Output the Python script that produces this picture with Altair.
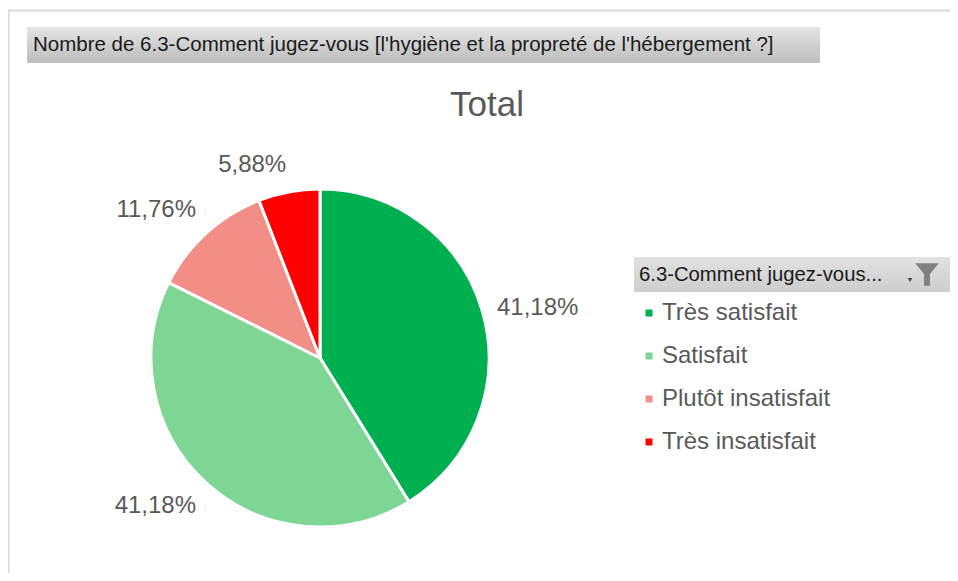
import altair as alt
import pandas as pd

# ---- data ----
categories = ["Très satisfait", "Satisfait", "Plutôt insatisfait", "Très insatisfait"]
counts = [7, 7, 2, 1]
pct_labels = ["41,18%", "41,18%", "11,76%", "5,88%"]
colors = ["#00B050", "#7DD694", "#F28E86", "#FF0000"]
header_text = "Nombre de 6.3-Comment jugez-vous [l'hygiène et la propreté de l'hébergement ?]"
legend_title = "6.3-Comment jugez-vous..."
chart_title = "Total"

df = pd.DataFrame({"cat": categories, "count": counts, "label": pct_labels,
                   "idx": list(range(len(categories)))})
one = pd.DataFrame({"a": [0]})

FONT = "Liberation Sans"
GREY = "#595959"
CX, CY, R = 312, 350, 169

color_scale = alt.Scale(domain=categories, range=colors)

# frame lines
top_line = alt.Chart(one).mark_rule(color="#d9d9d9", strokeWidth=2).encode(
    x=alt.value(0), x2=alt.value(942), y=alt.value(2.5))
left_line = alt.Chart(one).mark_rule(color="#d9d9d9", strokeWidth=2).encode(
    x=alt.value(0.5), y=alt.value(2), y2=alt.value(565))

grad = alt.Gradient(gradient="linear",
                    stops=[alt.GradientStop(color="#e4e4e4", offset=0),
                           alt.GradientStop(color="#bdbdbd", offset=1)],
                    x1=0, x2=0, y1=0, y2=1)
grad2 = alt.Gradient(gradient="linear",
                     stops=[alt.GradientStop(color="#e2e2e2", offset=0),
                            alt.GradientStop(color="#cdcdcd", offset=1)],
                     x1=0, x2=0, y1=0, y2=1)

header_box = alt.Chart(one).mark_rect(color=grad).encode(
    x=alt.value(19), x2=alt.value(812), y=alt.value(19), y2=alt.value(55))
header = alt.Chart(one).mark_text(align="left", baseline="middle", font=FONT,
                                  fontSize=20.5, color="#1a1a1a").encode(
    x=alt.value(25), y=alt.value(37), text=alt.value(header_text))

title = alt.Chart(one).mark_text(align="center", baseline="alphabetic", font=FONT,
                                 fontSize=35, color=GREY).encode(
    x=alt.value(479), y=alt.value(108), text=alt.value(chart_title))

pie = alt.Chart(df).mark_arc(outerRadius=R, stroke="white", strokeWidth=3).encode(
    theta=alt.Theta("count:Q", stack=True),
    color=alt.Color("cat:N", scale=color_scale, legend=None),
    order=alt.Order("idx:Q"),
    x=alt.value(CX), y=alt.value(CY))

# data labels: Excel-like "outside end" placement, aligned by side of the pie.
# They share the pie's theta scale (mid-point of each stacked slice).
label_base = alt.Chart(df).transform_window(
    cum="sum(count)", sort=[alt.SortField("idx")], frame=[None, 0]
).transform_joinaggregate(
    total="sum(count)"
).transform_calculate(
    mid="datum.cum - datum.count / 2",
    s="sin(2 * PI * datum.mid / datum.total)",
    c="cos(2 * PI * datum.mid / datum.total)"
)

label_layers = []
side_rules = [("left", "datum.s >= 0"), ("right", "datum.s < 0")]
vert_rules = [("bottom", "datum.c > 0.5"), ("top", "datum.c < -0.5"),
              ("middle", "abs(datum.c) <= 0.5")]
for al, af in side_rules:
    for bl, bf in vert_rules:
        label_layers.append(
            label_base.transform_filter(f"({af}) && ({bf})").mark_text(
                radius=R + 15, font=FONT, fontSize=24, color=GREY,
                align=al, baseline=bl).encode(
                theta=alt.Theta("mid:Q", stack=None),
                text="label:N",
                x=alt.value(CX), y=alt.value(CY)))

# legend
leg_box = alt.Chart(one).mark_rect(color=grad2).encode(
    x=alt.value(626), x2=alt.value(942), y=alt.value(249), y2=alt.value(284))
leg_title = alt.Chart(one).mark_text(align="left", baseline="middle", font=FONT,
                                     fontSize=20.3, color="#1a1a1a").encode(
    x=alt.value(631), y=alt.value(267), text=alt.value(legend_title))
funnel = alt.Chart(one).mark_point(
    shape="M-1,-0.9 L1,-0.9 L0.25,0 L0.25,1 L-0.25,1 L-0.25,0 Z",
    filled=True, color="#808080", opacity=1, size=560).encode(
    x=alt.value(919), y=alt.value(266))
dropdown = alt.Chart(one).mark_point(shape="triangle-down", filled=True,
                                     color="#404040", opacity=1, size=20).encode(
    x=alt.value(902), y=alt.value(272))

ypos = alt.Y("cat:N", scale=alt.Scale(type="point", domain=categories,
                                     range=[305, 434], padding=0), axis=None)
leg_sq = alt.Chart(df).mark_square(size=49, opacity=1).encode(
    x=alt.value(641), y=ypos,
    color=alt.Color("cat:N", scale=color_scale, legend=None))
leg_txt = alt.Chart(df).mark_text(align="left", baseline="middle", font=FONT,
                                  fontSize=24, color=GREY).encode(
    x=alt.value(654), y=ypos, text="cat:N")

chart = alt.layer(top_line, left_line, header_box, header, title, pie, *label_layers,
                  leg_box, leg_title, funnel, dropdown, leg_sq, leg_txt).properties(
    width=942, height=565, autosize="none", padding=0
).configure_view(stroke=None)

chart.save("out.html", embed_options={"renderer": "svg", "actions": False})
